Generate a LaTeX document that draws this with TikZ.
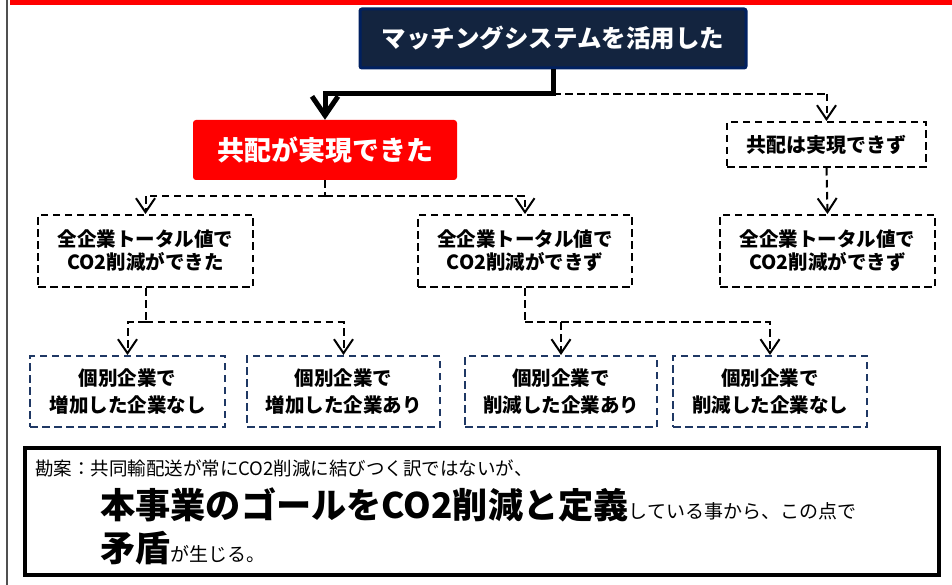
\documentclass[tikz,border=0pt]{standalone}
\usepackage{fontspec}
\setmainfont{Noto Sans CJK JP}
\usetikzlibrary{arrows.meta}
\definecolor{navyfill}{HTML}{13243F}
\definecolor{navyedge}{HTML}{002060}
\definecolor{boxblue}{HTML}{1F3864}
\definecolor{leftline}{HTML}{505050}
\begin{document}
\begin{tikzpicture}[x=1pt,y=-1pt,
  dashline/.style={line width=2pt, dash pattern=on 7.5pt off 4.5pt},
  dbox/.style={draw=black, dashline, align=center, inner sep=0pt,
    font=\bfseries\fontsize{19.5}{23}\selectfont},
  bbox/.style={draw=boxblue, dashline, align=center, inner sep=0pt,
    font=\bfseries\fontsize{19.5}{27}\selectfont},
  dconn/.style={dashline, -{Straight Barb[length=14pt,width=19pt]}},
  bigconn/.style={line width=5pt, -{Straight Barb[length=19pt,width=26pt]}},
  plain/.style={anchor=base west, inner sep=0pt}]
\useasboundingbox (0,0) rectangle (952,585);
\fill[red] (10,0) rectangle (952,5);
\draw[line width=1.6pt, leftline] (7,0) -- (7,585);

% top box
\node[fill=navyfill, draw=navyedge, line width=3pt, rounded corners=2pt,
  minimum width=386pt, minimum height=59pt, text=white,
  font=\bfseries\fontsize{24.5}{24.5}\selectfont] (top) at (553,38.5) {マッチングシステムを活用した};

% level 1
\node[fill=red, rounded corners=3pt, minimum width=264pt, minimum height=60pt,
  text=white, font=\bfseries\fontsize{27}{27}\selectfont] (ok) at (325,150) {共配が実現できた};
\node[dbox, minimum width=199pt, minimum height=45pt,
  font=\bfseries\fontsize{20}{20}\selectfont] (ng) at (826.5,144.5) {共配は実現できず};

% level 2
\node[dbox, minimum width=215pt, minimum height=72pt] (a) at (145.5,251) {全企業トータル値で\\CO2削減ができた};
\node[dbox, minimum width=214pt, minimum height=72pt] (b) at (525,251) {全企業トータル値で\\CO2削減ができず};
\node[dbox, minimum width=215pt, minimum height=72pt] (c) at (827.5,251) {全企業トータル値で\\CO2削減ができず};

% level 3
\node[bbox, minimum width=195pt, minimum height=71pt] (a1) at (127.5,391.5) {個別企業で\\増加した企業なし};
\node[bbox, minimum width=193pt, minimum height=71pt] (a2) at (343.5,391.5) {個別企業で\\増加した企業あり};
\node[bbox, minimum width=192pt, minimum height=71pt] (b1) at (561,391.5) {個別企業で\\削減した企業あり};
\node[bbox, minimum width=194pt, minimum height=71pt] (b2) at (770,391.5) {個別企業で\\削減した企業なし};

% connectors
\coordinate (j1) at (553,94);
\coordinate (j2) at (325,196);
\coordinate (j3) at (145.5,322);
\coordinate (j4) at (525,322);
\draw[dashline] (j1) -- (826.5,94) coordinate (j1r);
\draw[dconn] (j1r) -- (ng.north);
\draw[bigconn, line join=miter] (top.south) -- (j1) -| (ok.north);
\draw[dashline] (ok.south) -- (j2);
\draw[dconn] (j2) -| (a.north);
\draw[dconn] (j2) -| (b.north);
\draw[dconn] (ng.south) -- (c.north);
\draw[dashline] (a.south) -- (j3);
\draw[dconn] (j3) -| (a1.north);
\draw[dconn] (j3) -| (a2.north);
\draw[dashline] (b.south) -- (j4);
\draw[dconn] (j4) -| (b1.north);
\draw[dconn] (j4) -| (b2.north);

% bottom note
\node[draw=black, line width=4.5pt, minimum width=914pt, minimum height=127pt] (note) at (482,511.5) {};
\node[plain, font=\fontsize{18.5}{18.5}\selectfont] (t1) at (35,475) {勘案：共同輸配送が常にCO2削減に結びつく訳ではないが、};
\node[plain] (t2) at (100,518) {{\bfseries\fontsize{35.2}{35.2}\selectfont 本事業のゴールをCO2削減と定義}{\fontsize{19}{19}\selectfont している事から、この点で}};
\node[plain] (t3) at (100,561) {{\bfseries\fontsize{35.2}{35.2}\selectfont 矛盾}{\fontsize{19}{19}\selectfont が生じる。}};
\end{tikzpicture}
\end{document}
